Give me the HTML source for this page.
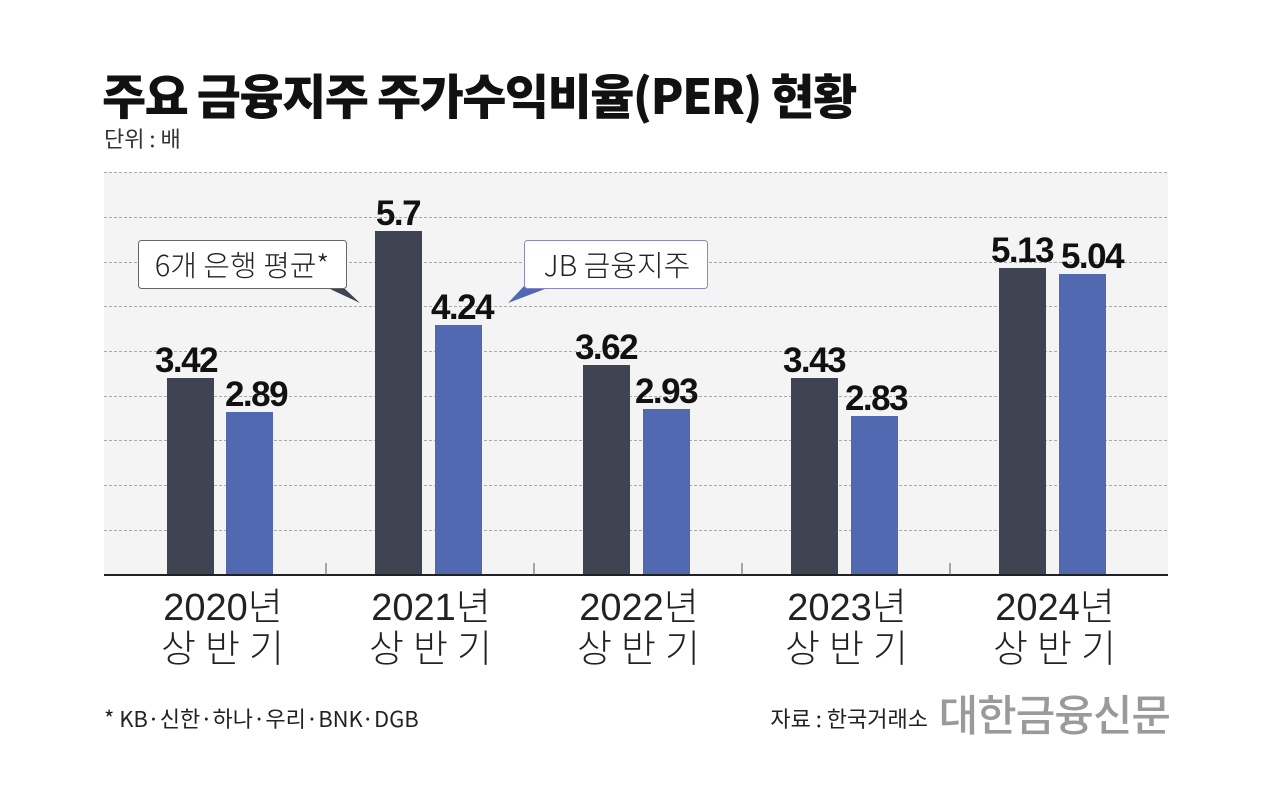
<!DOCTYPE html>
<html><head><meta charset="utf-8"><style>
body{margin:0;background:#fff;}
svg{display:block;}
text{font-family:"Liberation Sans","Noto Sans CJK KR",sans-serif;}
</style></head><body>
<svg width="1280" height="806" viewBox="0 0 1280 806" xmlns="http://www.w3.org/2000/svg">
<rect width="1280" height="806" fill="#fff"/>
<text x="102" y="114" font-size="48" font-weight="900" fill="#111" style="font-family:'Noto Sans CJK KR',sans-serif" letter-spacing="-1.5">주요 금융지주 주가수익비율(PER) 현황</text>
<text x="104" y="147" font-size="22" fill="#333" style="font-family:'Noto Sans CJK KR',sans-serif">단위 : 배</text>
<rect x="104" y="172" width="1064" height="403" fill="#f4f4f4"/>
<g stroke="#aaa" stroke-width="1" stroke-dasharray="3,2">
<line x1="104" x2="1168" y1="172.5" y2="172.5"/>
<line x1="104" x2="1168" y1="217.5" y2="217.5"/>
<line x1="104" x2="1168" y1="262.5" y2="262.5"/>
<line x1="104" x2="1168" y1="306.5" y2="306.5"/>
<line x1="104" x2="1168" y1="351.5" y2="351.5"/>
<line x1="104" x2="1168" y1="396.5" y2="396.5"/>
<line x1="104" x2="1168" y1="440.5" y2="440.5"/>
<line x1="104" x2="1168" y1="485.5" y2="485.5"/>
<line x1="104" x2="1168" y1="530.5" y2="530.5"/>
</g>
<g fill="#3e4452">
<rect x="167" y="378" width="47" height="197"/>
<rect x="375" y="231" width="47" height="344"/>
<rect x="583" y="365" width="47" height="210"/>
<rect x="791" y="378" width="47" height="197"/>
<rect x="999" y="268" width="47" height="307"/>
</g>
<g fill="#5169b0">
<rect x="226" y="412" width="47" height="163"/>
<rect x="435" y="325" width="47" height="250"/>
<rect x="643" y="409" width="47" height="166"/>
<rect x="851" y="416" width="47" height="159"/>
<rect x="1059" y="274" width="47" height="301"/>
</g>
<line x1="104" x2="1168" y1="575" y2="575" stroke="#222" stroke-width="2"/>
<g stroke="#555" stroke-width="1">
<line x1="326" x2="326" y1="563" y2="575"/>
<line x1="534" x2="534" y1="563" y2="575"/>
<line x1="742" x2="742" y1="563" y2="575"/>
<line x1="950" x2="950" y1="563" y2="575"/>
</g>
<g font-size="35" font-weight="bold" fill="#111" text-anchor="middle" letter-spacing="-1.5">
<text x="186" y="372">3.42</text>
<text x="256" y="406">2.89</text>
<text x="398" y="225">5.7</text>
<text x="462" y="319">4.24</text>
<text x="606" y="359">3.62</text>
<text x="666" y="403">2.93</text>
<text x="814" y="372">3.43</text>
<text x="876" y="410">2.83</text>
<text x="1022" y="262">5.13</text>
<text x="1092" y="268">5.04</text>
</g>
<path d="M330 289 L360 303 L345 289Z" fill="#3e4452"/>
<rect x="138.5" y="240.5" width="208" height="48" rx="3" fill="#fff" stroke="#666"/>
<text x="242" y="276" font-size="29" fill="#222" text-anchor="middle" style="font-family:'Noto Sans CJK KR',sans-serif" font-weight="300">6개 은행 평균*</text>
<path d="M525 285 L508 303 L545 289Z" fill="#5169b0"/>
<rect x="524.5" y="240.5" width="183" height="48" rx="3" fill="#fff" stroke="#8889c8"/>
<text x="617" y="276" font-size="29" fill="#222" text-anchor="middle" style="font-family:'Noto Sans CJK KR',sans-serif" font-weight="300">JB 금융지주</text>
<g font-size="38" fill="#222" text-anchor="middle" style="font-family:'Noto Sans CJK KR',sans-serif" font-weight="300">
<text x="223" y="620">2020년</text><text x="227" y="662" letter-spacing="9">상반기</text>
<text x="431" y="620">2021년</text><text x="435" y="662" letter-spacing="9">상반기</text>
<text x="639" y="620">2022년</text><text x="643" y="662" letter-spacing="9">상반기</text>
<text x="847" y="620">2023년</text><text x="851" y="662" letter-spacing="9">상반기</text>
<text x="1055" y="620">2024년</text><text x="1059" y="662" letter-spacing="9">상반기</text>
</g>
<text x="104" y="727" font-size="22" fill="#222" style="font-family:'Noto Sans CJK KR',sans-serif">* KB·신한·하나·우리·BNK·DGB</text>
<text x="928" y="727" font-size="22" fill="#222" text-anchor="end" style="font-family:'Noto Sans CJK KR',sans-serif">자료 : 한국거래소</text>
<text x="1170" y="731" font-size="43" fill="#9a9a9a" text-anchor="end" font-weight="500" style="font-family:'Noto Sans CJK KR',sans-serif" letter-spacing="-1">대한금융신문</text>
</svg>
</body></html>
